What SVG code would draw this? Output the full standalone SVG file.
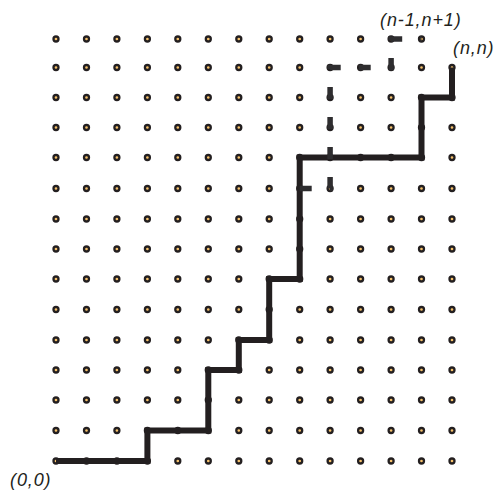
<svg xmlns="http://www.w3.org/2000/svg" xmlns:xlink="http://www.w3.org/1999/xlink" width="500" height="493" viewBox="0 0 500 493">
<style>
.dot{fill:#f5c16c;stroke:#231f20;stroke-width:2.3}
.path{fill:none;stroke:#231f20;stroke-width:6;stroke-linejoin:miter;stroke-linecap:butt}
.dash{fill:none;stroke:#2e2d2f;stroke-width:5.5;stroke-dasharray:12 18;stroke-linecap:butt}
.lbl{font-family:"Liberation Sans",Arial,sans-serif;font-style:italic;font-size:18px;fill:#231f20;letter-spacing:0.9px}
</style>
<defs>
<circle id="d" r="2.5" class="dot"/>
</defs>
<rect width="500" height="493" fill="#fff"/>
<g id="grid">
<g id="row0" transform="translate(0,461)"><use href="#d" x="56"/><use href="#d" x="86.5"/><use href="#d" x="116.9"/><use href="#d" x="147.4"/><use href="#d" x="177.8"/><use href="#d" x="208.3"/><use href="#d" x="238.8"/><use href="#d" x="269.2"/><use href="#d" x="299.7"/><use href="#d" x="330.1"/><use href="#d" x="360.6"/><use href="#d" x="391.1"/><use href="#d" x="421.5"/><use href="#d" x="452"/></g>
<g id="row1" transform="translate(0,430.5)"><use href="#d" x="56"/><use href="#d" x="86.5"/><use href="#d" x="116.9"/><use href="#d" x="147.4"/><use href="#d" x="177.8"/><use href="#d" x="208.3"/><use href="#d" x="238.8"/><use href="#d" x="269.2"/><use href="#d" x="299.7"/><use href="#d" x="330.1"/><use href="#d" x="360.6"/><use href="#d" x="391.1"/><use href="#d" x="421.5"/><use href="#d" x="452"/></g>
<g id="row2" transform="translate(0,400)"><use href="#d" x="56"/><use href="#d" x="86.5"/><use href="#d" x="116.9"/><use href="#d" x="147.4"/><use href="#d" x="177.8"/><use href="#d" x="208.3"/><use href="#d" x="238.8"/><use href="#d" x="269.2"/><use href="#d" x="299.7"/><use href="#d" x="330.1"/><use href="#d" x="360.6"/><use href="#d" x="391.1"/><use href="#d" x="421.5"/><use href="#d" x="452"/></g>
<g id="row3" transform="translate(0,370)"><use href="#d" x="56"/><use href="#d" x="86.5"/><use href="#d" x="116.9"/><use href="#d" x="147.4"/><use href="#d" x="177.8"/><use href="#d" x="208.3"/><use href="#d" x="238.8"/><use href="#d" x="269.2"/><use href="#d" x="299.7"/><use href="#d" x="330.1"/><use href="#d" x="360.6"/><use href="#d" x="391.1"/><use href="#d" x="421.5"/><use href="#d" x="452"/></g>
<g id="row4" transform="translate(0,340)"><use href="#d" x="56"/><use href="#d" x="86.5"/><use href="#d" x="116.9"/><use href="#d" x="147.4"/><use href="#d" x="177.8"/><use href="#d" x="208.3"/><use href="#d" x="238.8"/><use href="#d" x="269.2"/><use href="#d" x="299.7"/><use href="#d" x="330.1"/><use href="#d" x="360.6"/><use href="#d" x="391.1"/><use href="#d" x="421.5"/><use href="#d" x="452"/></g>
<g id="row5" transform="translate(0,309.5)"><use href="#d" x="56"/><use href="#d" x="86.5"/><use href="#d" x="116.9"/><use href="#d" x="147.4"/><use href="#d" x="177.8"/><use href="#d" x="208.3"/><use href="#d" x="238.8"/><use href="#d" x="269.2"/><use href="#d" x="299.7"/><use href="#d" x="330.1"/><use href="#d" x="360.6"/><use href="#d" x="391.1"/><use href="#d" x="421.5"/><use href="#d" x="452"/></g>
<g id="row6" transform="translate(0,279)"><use href="#d" x="56"/><use href="#d" x="86.5"/><use href="#d" x="116.9"/><use href="#d" x="147.4"/><use href="#d" x="177.8"/><use href="#d" x="208.3"/><use href="#d" x="238.8"/><use href="#d" x="269.2"/><use href="#d" x="299.7"/><use href="#d" x="330.1"/><use href="#d" x="360.6"/><use href="#d" x="391.1"/><use href="#d" x="421.5"/><use href="#d" x="452"/></g>
<g id="row7" transform="translate(0,249)"><use href="#d" x="56"/><use href="#d" x="86.5"/><use href="#d" x="116.9"/><use href="#d" x="147.4"/><use href="#d" x="177.8"/><use href="#d" x="208.3"/><use href="#d" x="238.8"/><use href="#d" x="269.2"/><use href="#d" x="299.7"/><use href="#d" x="330.1"/><use href="#d" x="360.6"/><use href="#d" x="391.1"/><use href="#d" x="421.5"/><use href="#d" x="452"/></g>
<g id="row8" transform="translate(0,219)"><use href="#d" x="56"/><use href="#d" x="86.5"/><use href="#d" x="116.9"/><use href="#d" x="147.4"/><use href="#d" x="177.8"/><use href="#d" x="208.3"/><use href="#d" x="238.8"/><use href="#d" x="269.2"/><use href="#d" x="299.7"/><use href="#d" x="330.1"/><use href="#d" x="360.6"/><use href="#d" x="391.1"/><use href="#d" x="421.5"/><use href="#d" x="452"/></g>
<g id="row9" transform="translate(0,188.5)"><use href="#d" x="56"/><use href="#d" x="86.5"/><use href="#d" x="116.9"/><use href="#d" x="147.4"/><use href="#d" x="177.8"/><use href="#d" x="208.3"/><use href="#d" x="238.8"/><use href="#d" x="269.2"/><use href="#d" x="299.7"/><use href="#d" x="330.1"/><use href="#d" x="360.6"/><use href="#d" x="391.1"/><use href="#d" x="421.5"/><use href="#d" x="452"/></g>
<g id="row10" transform="translate(0,157.5)"><use href="#d" x="56"/><use href="#d" x="86.5"/><use href="#d" x="116.9"/><use href="#d" x="147.4"/><use href="#d" x="177.8"/><use href="#d" x="208.3"/><use href="#d" x="238.8"/><use href="#d" x="269.2"/><use href="#d" x="299.7"/><use href="#d" x="330.1"/><use href="#d" x="360.6"/><use href="#d" x="391.1"/><use href="#d" x="421.5"/><use href="#d" x="452"/></g>
<g id="row11" transform="translate(0,127.5)"><use href="#d" x="56"/><use href="#d" x="86.5"/><use href="#d" x="116.9"/><use href="#d" x="147.4"/><use href="#d" x="177.8"/><use href="#d" x="208.3"/><use href="#d" x="238.8"/><use href="#d" x="269.2"/><use href="#d" x="299.7"/><use href="#d" x="330.1"/><use href="#d" x="360.6"/><use href="#d" x="391.1"/><use href="#d" x="421.5"/><use href="#d" x="452"/></g>
<g id="row12" transform="translate(0,97.5)"><use href="#d" x="56"/><use href="#d" x="86.5"/><use href="#d" x="116.9"/><use href="#d" x="147.4"/><use href="#d" x="177.8"/><use href="#d" x="208.3"/><use href="#d" x="238.8"/><use href="#d" x="269.2"/><use href="#d" x="299.7"/><use href="#d" x="330.1"/><use href="#d" x="360.6"/><use href="#d" x="391.1"/><use href="#d" x="421.5"/><use href="#d" x="452"/></g>
<g id="row13" transform="translate(0,67.5)"><use href="#d" x="56"/><use href="#d" x="86.5"/><use href="#d" x="116.9"/><use href="#d" x="147.4"/><use href="#d" x="177.8"/><use href="#d" x="208.3"/><use href="#d" x="238.8"/><use href="#d" x="269.2"/><use href="#d" x="299.7"/><use href="#d" x="330.1"/><use href="#d" x="360.6"/><use href="#d" x="391.1"/><use href="#d" x="421.5"/><use href="#d" x="452"/></g>
<g id="row14" transform="translate(0,39)"><use href="#d" x="56"/><use href="#d" x="86.5"/><use href="#d" x="116.9"/><use href="#d" x="147.4"/><use href="#d" x="177.8"/><use href="#d" x="208.3"/><use href="#d" x="238.8"/><use href="#d" x="269.2"/><use href="#d" x="299.7"/><use href="#d" x="330.1"/><use href="#d" x="360.6"/><use href="#d" x="391.1"/><use href="#d" x="421.5"/></g>
</g>
<g id="connectors">
<path id="lattice-path" class="path" d="M56,461 H147.4 V430.5 H208.3 V370 H238.8 V340 H269.2 V279 H299.7 V157.5 H421.5 V97.5 H452 V67.5"/>
<path id="reflected-path" class="dash" d="M299.7,188.5 H330.1 V67.5 H391.1 V39 H421.5"/>
</g>
<g id="labels">
<text id="label-origin" class="lbl" x="10" y="486">(0,0)</text>
<text id="label-nn" class="lbl" x="453" y="54">(n,n)</text>
<text id="label-n1" class="lbl" x="380" y="26">(n-1,n+1)</text>
</g>
</svg>
